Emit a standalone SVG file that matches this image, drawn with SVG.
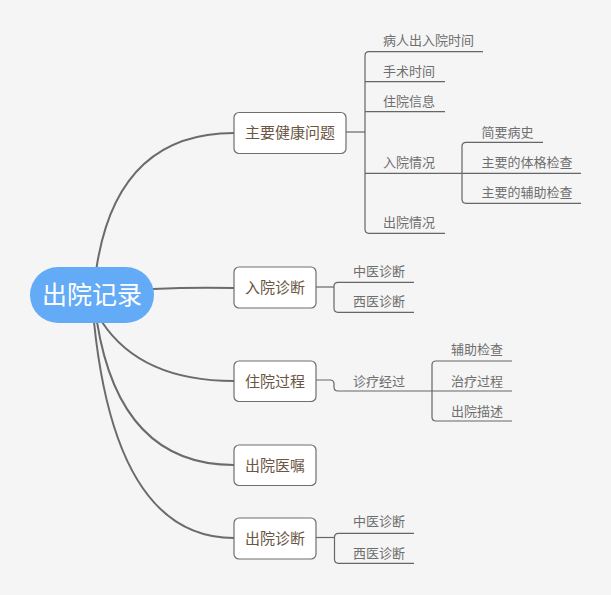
<svg xmlns="http://www.w3.org/2000/svg" width="611" height="595" viewBox="0 0 611 595">
<style>
.bg{fill:#f5f5f5}
.main{fill:none;stroke:#6b6b6b;stroke-width:2}
.sub{fill:none;stroke:#666;stroke-width:1.2}
.node rect{fill:#fff;stroke:#6e6e6e;stroke-width:1.2}
.nt{font-family:"Noto Sans CJK SC","Noto Sans",sans-serif;font-size:15px;fill:#6b5644;text-anchor:middle}
.st{font-family:"Noto Sans CJK SC","Noto Sans",sans-serif;font-size:13px;fill:#6e6e6e}
.rt{font-family:"Noto Sans CJK SC","Noto Sans",sans-serif;font-size:25px;fill:#fff;text-anchor:middle}
</style>
<rect class="bg" x="0" y="0" width="611" height="595"/>
<g id="connectors">
  <path class="main" d="M96.5,268 Q117,133 234,133"/>
  <path class="main" d="M153,289 Q193,287 234,288"/>
  <path class="main" d="M102,322 Q141,381 234,381"/>
  <path class="main" d="M97,322 Q120,465 234,465"/>
  <path class="main" d="M94,322 Q116,538 234,538"/>
  <path class="sub" d="M346,132 H365"/>
  <path class="sub" d="M483,51.7 H369 Q365,51.7 365,55.7 V229.3 Q365,233.3 369,233.3 H445"/>
  <path class="sub" d="M365,81.7 H445 M365,111.7 H445 M365,173.3 H462"/>
  <path class="sub" d="M543,142.3 H466 Q462,142.3 462,146.3 V199.3 Q462,203.3 466,203.3 H581"/>
  <path class="sub" d="M462,173.3 H581"/>
  <path class="sub" d="M316,287 H334"/>
  <path class="sub" d="M414,282.3 H338 Q334,282.3 334,286.3 V308.3 Q334,312.3 338,312.3 H414"/>
  <path class="sub" d="M316,380 H330 Q334,380 334,384 V387 Q334,391 338,391 H432"/>
  <path class="sub" d="M512,361 H436 Q432,361 432,365 V417 Q432,421 436,421 H512"/>
  <path class="sub" d="M432,391 H512"/>
  <path class="sub" d="M316,537.5 H334.5"/>
  <path class="sub" d="M414,533.3 H338.5 Q334.5,533.3 334.5,537.3 V559.3 Q334.5,563.3 338.5,563.3 H414"/>
</g>
<g id="root">
  <rect x="30" y="267" width="124" height="56" rx="28" fill="#63abf7"/>
  <text class="rt" x="92" y="304">出院记录</text>
</g>
<g id="n1" class="node">
  <rect x="234" y="112.5" width="112" height="41" rx="5"/>
  <text class="nt" x="290" y="138.3">主要健康问题</text>
</g>
<g id="n1-1"><text class="st" x="383" y="45.2">病人出入院时间</text></g>
<g id="n1-2"><text class="st" x="383" y="76.2">手术时间</text></g>
<g id="n1-3"><text class="st" x="383" y="105.7">住院信息</text></g>
<g id="n1-4"><text class="st" x="383" y="167.2">入院情况</text></g>
<g id="n1-4-1"><text class="st" x="481.5" y="137.2">简要病史</text></g>
<g id="n1-4-2"><text class="st" x="481.5" y="167.2">主要的体格检查</text></g>
<g id="n1-4-3"><text class="st" x="481.5" y="197.2">主要的辅助检查</text></g>
<g id="n1-5"><text class="st" x="383" y="227.2">出院情况</text></g>
<g id="n2" class="node">
  <rect x="234" y="267" width="82" height="41" rx="5"/>
  <text class="nt" x="275" y="292.8">入院诊断</text>
</g>
<g id="n2-1"><text class="st" x="353" y="276.2">中医诊断</text></g>
<g id="n2-2"><text class="st" x="353" y="306.2">西医诊断</text></g>
<g id="n3" class="node">
  <rect x="234" y="361" width="82" height="40.5" rx="5"/>
  <text class="nt" x="275" y="386.5">住院过程</text>
</g>
<g id="n3-1"><text class="st" x="353" y="386.2">诊疗经过</text></g>
<g id="n3-1-1"><text class="st" x="451" y="353.5">辅助检查</text></g>
<g id="n3-1-2"><text class="st" x="451" y="386.2">治疗过程</text></g>
<g id="n3-1-3"><text class="st" x="451" y="416.2">出院描述</text></g>
<g id="n4" class="node">
  <rect x="234" y="445" width="82" height="40.5" rx="5"/>
  <text class="nt" x="275" y="470.5">出院医嘱</text>
</g>
<g id="n5" class="node">
  <rect x="234" y="518" width="82" height="41" rx="5"/>
  <text class="nt" x="275" y="543.8">出院诊断</text>
</g>
<g id="n5-1"><text class="st" x="353" y="526.2">中医诊断</text></g>
<g id="n5-2"><text class="st" x="353" y="557.8">西医诊断</text></g>
</svg>
